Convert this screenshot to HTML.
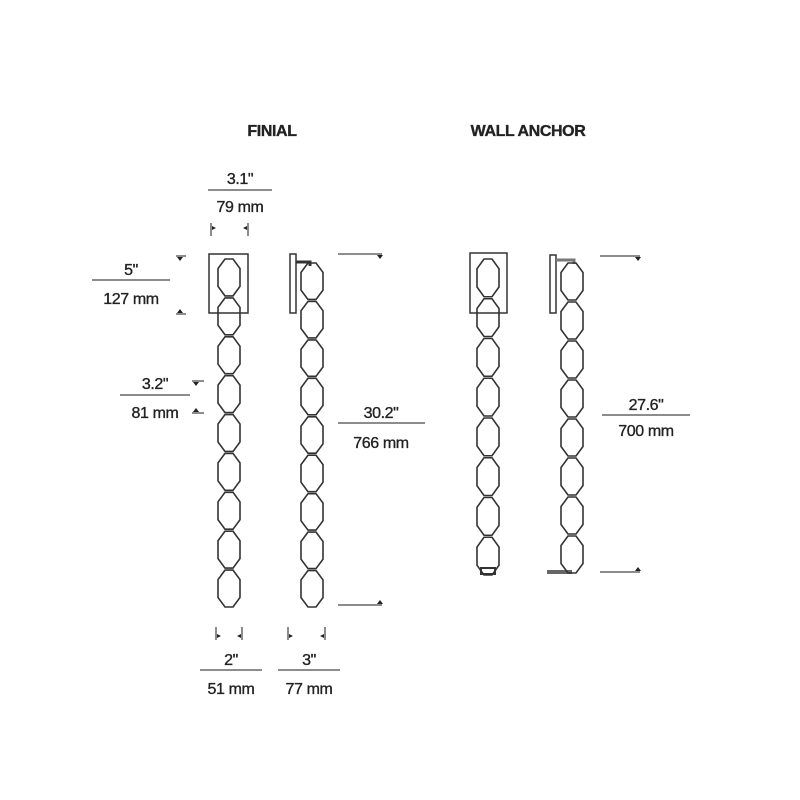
<!DOCTYPE html>
<html><head><meta charset="utf-8"><style>
html,body{margin:0;padding:0;background:#fff;width:800px;height:800px;overflow:hidden}
svg text{font-family:"Liberation Sans",sans-serif;font-size:16px;fill:#222;stroke:#222;stroke-width:0.35;text-anchor:middle;letter-spacing:-0.4px}
</style></head><body>
<svg id="s" width="800" height="800" viewBox="0 0 800 800" xmlns="http://www.w3.org/2000/svg">
<g fill="none" stroke="#333" stroke-width="1.5">
<rect x="209" y="254" width="39" height="59"/>
<rect x="290" y="254" width="6" height="59"/>
<path d="M296 262 H310 V266" stroke-width="3"/>
<rect x="470" y="253" width="37" height="60"/>
<rect x="550" y="255" width="6" height="58"/>
<path d="M556 260 H574 V264" stroke-width="3" stroke="#777"/>
<path d="M547 572 H572" stroke-width="4" stroke="#666"/>
<rect x="481" y="568" width="14" height="6" stroke-width="2"/>
</g>
<g id="chains" fill="none" stroke="#333" stroke-width="1.6"></g>
<g stroke="#666" stroke-width="1.5">
<line x1="208" y1="190" x2="272" y2="190"/>
<line x1="92" y1="280" x2="170" y2="280"/>
<line x1="120" y1="395" x2="190" y2="395"/>
<line x1="338" y1="423" x2="425" y2="423"/>
<line x1="602" y1="415" x2="690" y2="415"/>
<line x1="200" y1="670" x2="262" y2="670"/>
<line x1="278" y1="670" x2="340" y2="670"/>
<line x1="338" y1="254" x2="382" y2="254"/>
<line x1="338" y1="605" x2="382" y2="605"/>
<line x1="600" y1="256" x2="640" y2="256"/>
<line x1="600" y1="572" x2="640" y2="572"/>
<line x1="176" y1="256" x2="186" y2="256"/>
<line x1="176" y1="314" x2="186" y2="314"/>
<line x1="192" y1="381" x2="204" y2="381"/>
<line x1="192" y1="413" x2="204" y2="413"/>
<line x1="211" y1="223" x2="211" y2="236"/>
<line x1="248" y1="223" x2="248" y2="236"/>
<line x1="216" y1="627" x2="216" y2="640"/>
<line x1="242" y1="627" x2="242" y2="640"/>
<line x1="288" y1="627" x2="288" y2="640"/>
<line x1="325" y1="627" x2="325" y2="640"/>
</g>
<g fill="#222">
<path d="M377 255 l6 0 l-3 4z"/><path d="M377 604 l6 0 l-3 -4z"/>
<path d="M635 257 l6 0 l-3 4z"/><path d="M635 571 l6 0 l-3 -4z"/>
<path d="M177 257 l6 0 l-3 4z"/><path d="M177 313 l6 0 l-3 -4z"/>
<path d="M193 382 l6 0 l-3 4z"/><path d="M193 412 l6 0 l-3 -4z"/>
<path d="M212 226 l4 2 l-4 2z"/><path d="M247 226 l-4 2 l4 2z"/>
<path d="M217 634 l4 2 l-4 2z"/><path d="M241 634 l-4 2 l4 2z"/>
<path d="M289 634 l4 2 l-4 2z"/><path d="M324 634 l-4 2 l4 2z"/>
</g>
<text x="272" y="136" font-weight="bold">FINIAL</text>
<text x="528" y="136" font-weight="bold">WALL ANCHOR</text>
<text x="240" y="184">3.1"</text><text x="240" y="212">79 mm</text>
<text x="131" y="275">5"</text><text x="131" y="304">127 mm</text>
<text x="155" y="389">3.2"</text><text x="155" y="418">81 mm</text>
<text x="381" y="418">30.2"</text><text x="381" y="448">766 mm</text>
<text x="646" y="410">27.6"</text><text x="646" y="436">700 mm</text>
<text x="231" y="665">2"</text><text x="231" y="694">51 mm</text>
<text x="309" y="665">3"</text><text x="309" y="694">77 mm</text>
</svg>
<script>
var g=document.getElementById('chains'),ns='http://www.w3.org/2000/svg';
function chain(cx,y0,y1,n,w){var h=(y1-y0)/n;for(var i=0;i<n;i++){var t=y0+i*h,b=t+h;var p=document.createElementNS(ns,'polygon');
p.setAttribute('points',[[cx-4,t+1],[cx+4,t+1],[cx+w/2,t+h*0.27],[cx+w/2,b-h*0.27],[cx+4,b-1],[cx-4,b-1],[cx-w/2,b-h*0.27],[cx-w/2,t+h*0.27]].map(function(a){return a.join(',')}).join(' '));g.appendChild(p);}}
chain(229,258,608,9,22);chain(312,262,608,9,22);chain(488,258,576,8,22);chain(572,262,574,8,22);
</script>
</body></html>
